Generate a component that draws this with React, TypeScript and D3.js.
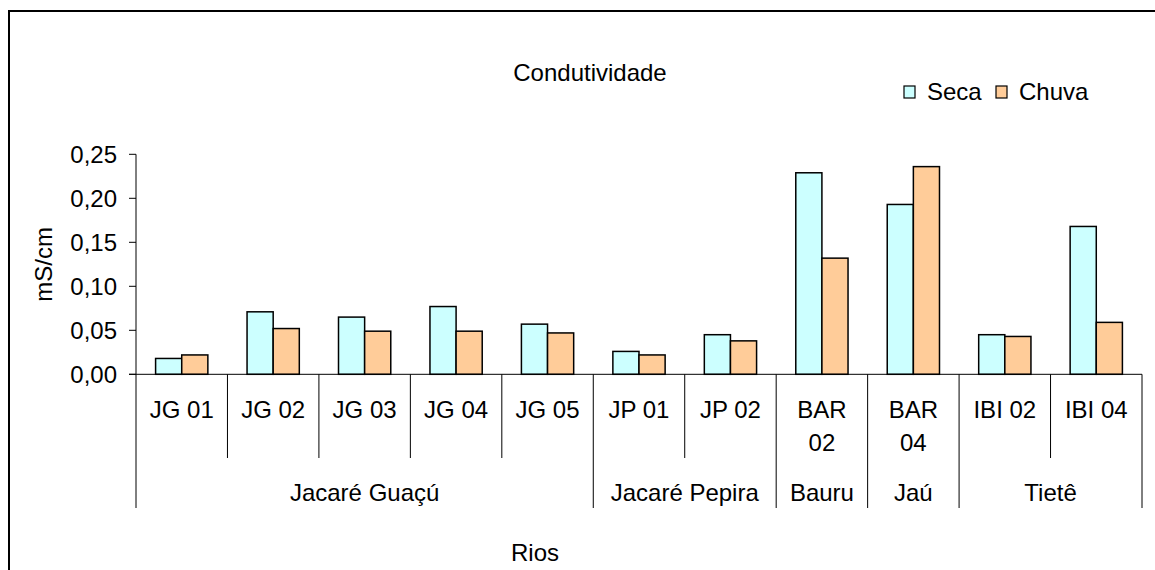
import React from "react";
import * as d3 from "d3";

// Sampling points along each river
const categories = ["JG 01", "JG 02", "JG 03", "JG 04", "JG 05", "JP 01", "JP 02", "BAR 02", "BAR 04", "IBI 02", "IBI 04"];
// Conductivity (mS/cm) in the dry season
const seca = [0.018, 0.071, 0.065, 0.077, 0.057, 0.026, 0.045, 0.229, 0.193, 0.045, 0.168];
// Conductivity (mS/cm) in the rainy season
const chuva = [0.022, 0.052, 0.049, 0.049, 0.047, 0.022, 0.038, 0.132, 0.236, 0.043, 0.059];
// Rivers, with the number of sampling points each one spans
const riverNames = ["Jacaré Guaçú", "Jacaré Pepira", "Bauru", "Jaú", "Tietê"];
const riverCounts = [5, 2, 1, 1, 2];
const yTicks = [0, 0.05, 0.1, 0.15, 0.2, 0.25];
const seriesNames = ["Seca", "Chuva"];
const seriesColors = ["#CCFFFF", "#FFCC99"];

const W = 1155;
const H = 570;
const FONT = "'Liberation Sans', Arial, sans-serif";
const FS = 24;

// Long labels wrap onto two lines inside their column
const wrapped: Record<string, string[]> = {
  "BAR 02": ["BAR", "02"],
  "BAR 04": ["BAR", "04"],
};

export default function App() {
  const x = d3.scaleBand<string>().domain(categories).range([136, 1142]);
  const inner = d3
    .scaleBand<string>()
    .domain(seriesNames)
    .range([0, x.bandwidth()])
    .paddingInner(0)
    .paddingOuter(0.75);
  const y = d3.scaleLinear().domain([0, 0.25]).range([374.3, 154.3]);
  const fmt = (v: number) => d3.format(".2f")(v).replace(".", ",");

  const y0 = y(0);
  const plotLeft = x.range()[0];
  const plotRight = x.range()[1];

  // Boundaries between river groups
  const groupEdges: number[] = [0];
  riverCounts.forEach((c, i) => groupEdges.push(groupEdges[i] + c));
  const edgeX = (i: number) => (i < categories.length ? x(categories[i])! : plotRight);

  const shortSepBottom = 458;
  const longSepBottom = 508;

  return (
    <svg
      width={W}
      height={H}
      style={{ position: "absolute", left: 0, top: 0, background: "#fff" }}
      fontFamily={FONT}
    >
      {/* chart frame, running past the window on the right and bottom */}
      <rect x={9} y={11} width={W + 40} height={H + 40} fill="#fff" stroke="#000" strokeWidth={2} />

      {/* title */}
      <text x={590} y={73} fontSize={FS} textAnchor="middle" dy="0.35em">
        Condutividade
      </text>

      {/* legend */}
      {seriesNames.map((s, i) => {
        const lx = [904, 996][i];
        return (
          <g key={s}>
            <rect x={lx} y={86} width={11} height={12} fill={seriesColors[i]} stroke="#000" strokeWidth={1.2} />
            <text x={lx + 23} y={92} fontSize={FS} dy="0.35em">
              {s}
            </text>
          </g>
        );
      })}

      {/* y axis */}
      <line x1={plotLeft} x2={plotLeft} y1={y(0.25)} y2={y0} stroke="#000" strokeWidth={1} />
      {yTicks.map((t) => (
        <g key={t}>
          <line x1={plotLeft - 7} x2={plotLeft} y1={y(t)} y2={y(t)} stroke="#000" strokeWidth={1} />
          <text x={117} y={y(t)} fontSize={FS} textAnchor="end" dy="0.35em">
            {fmt(t)}
          </text>
        </g>
      ))}
      <text
        transform={`translate(44,${(y(0) + y(0.25)) / 2}) rotate(-90)`}
        fontSize={FS}
        textAnchor="middle"
        dy="0.35em"
      >
        mS/cm
      </text>

      {/* bars */}
      {categories.map((c, i) => (
        <g key={c} transform={`translate(${x(c)},0)`}>
          {[seca[i], chuva[i]].map((v, k) => (
            <rect
              key={k}
              x={inner(seriesNames[k])}
              y={y(v)}
              width={inner.bandwidth()}
              height={y0 - y(v)}
              fill={seriesColors[k]}
              stroke="#000"
              strokeWidth={1.5}
            />
          ))}
        </g>
      ))}

      {/* category axis */}
      <line x1={plotLeft - 7} x2={plotRight} y1={y0} y2={y0} stroke="#000" strokeWidth={1} />
      {categories.map((c, i) => {
        const isGroupEdge = groupEdges.includes(i);
        return (
          <line
            key={"sep" + c}
            x1={edgeX(i)}
            x2={edgeX(i)}
            y1={y0}
            y2={isGroupEdge ? longSepBottom : shortSepBottom}
            stroke="#000"
            strokeWidth={1}
          />
        );
      })}
      <line x1={plotRight} x2={plotRight} y1={y0} y2={longSepBottom} stroke="#000" strokeWidth={1} />

      {categories.map((c) => {
        const lines = wrapped[c] ?? [c];
        return (
          <text key={"lab" + c} x={x(c)! + x.bandwidth() / 2} y={410} fontSize={FS} textAnchor="middle">
            {lines.map((l, j) => (
              <tspan key={j} x={x(c)! + x.bandwidth() / 2} y={410 + j * 33} dy="0.35em">
                {l}
              </tspan>
            ))}
          </text>
        );
      })}

      {/* river group labels */}
      {riverNames.map((r, i) => {
        const cx = (edgeX(groupEdges[i]) + edgeX(groupEdges[i + 1])) / 2;
        return (
          <text key={r} x={cx} y={493} fontSize={FS} textAnchor="middle" dy="0.35em">
            {r}
          </text>
        );
      })}

      {/* x axis title */}
      <text x={535} y={553} fontSize={FS} textAnchor="middle" dy="0.35em">
        Rios
      </text>
    </svg>
  );
}
